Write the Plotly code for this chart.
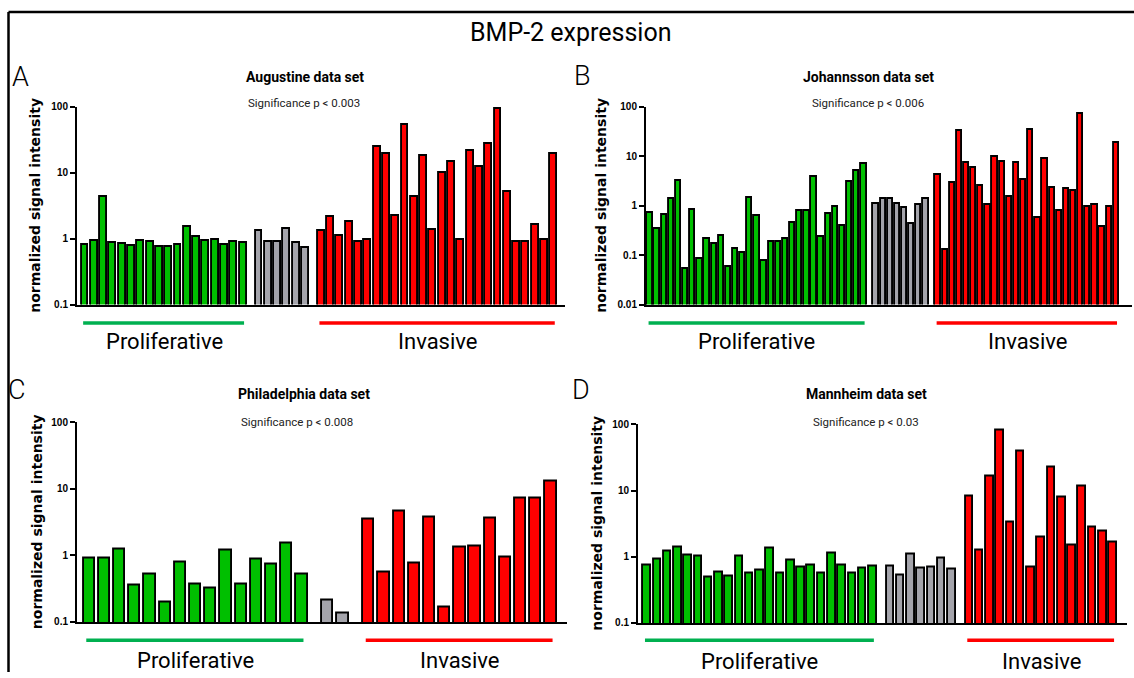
import plotly.graph_objects as go

# ---------------- data ----------------
panel_letters = ["A", "B", "C", "D"]
panel_titles = ["Augustine data set", "Johannsson data set", "Philadelphia data set", "Mannheim data set"]
significance = ["Significance p < 0.003", "Significance p < 0.006", "Significance p < 0.008", "Significance p < 0.03"]
group_labels = ["Proliferative", "Invasive"]

A_prolif = [0.81, 0.93, 4.3, 0.87, 0.84, 0.78, 0.93, 0.90, 0.74, 0.76, 0.81, 1.53, 1.06, 0.93, 0.96, 0.82, 0.90, 0.86]
A_other = [1.31, 0.91, 0.89, 1.41, 0.86, 0.72]
A_inv = [1.32, 2.15, 1.10, 1.79, 0.91, 0.96, 24.7, 19.4, 2.25, 52.6, 4.3, 17.9, 1.36, 9.8, 14.8, 0.96,
         21.3, 12.3, 27.4, 92.0, 5.1, 0.91, 0.88, 1.62, 0.96, 19.7]

B_prolif = [0.73, 0.34, 0.64, 1.38, 3.2, 0.054, 0.83, 0.085, 0.21, 0.17, 0.245, 0.059, 0.136, 0.111, 1.44, 0.62,
            0.075, 0.184, 0.184, 0.214, 0.445, 0.78, 0.78, 3.83, 0.231, 0.67, 0.97, 0.388, 3.04, 4.96, 7.15]
B_other = [1.1, 1.36, 1.4, 1.1, 0.885, 0.42, 1.05, 1.36]
B_inv = [4.13, 0.128, 2.86, 32.9, 7.38, 5.87, 2.5, 1.02, 9.55, 7.7, 1.51, 7.48, 3.33, 34.9, 0.57, 9.0,
         2.35, 0.8, 2.24, 1.99, 72.6, 0.955, 1.02, 0.37, 0.955, 19.0]

C_prolif = [0.91, 0.91, 1.25, 0.35, 0.52, 0.195, 0.78, 0.37, 0.32, 1.2, 0.37, 0.87, 0.73, 1.52, 0.52]
C_other = [0.21, 0.134]
C_inv = [3.52, 0.55, 4.52, 0.76, 3.77, 0.165, 1.3, 1.36, 3.56, 0.93, 7.1, 7.28, 13.0]

D_prolif = [0.74, 0.92, 1.21, 1.39, 1.05, 1.02, 0.49, 0.57, 0.5, 1.0, 0.55, 0.61, 1.33, 0.55, 0.87, 0.69,
            0.73, 0.55, 1.13, 0.73, 0.55, 0.66, 0.71]
D_other = [0.71, 0.53, 1.07, 0.67, 0.7, 0.94, 0.65]
D_inv = [8.15, 1.23, 16.5, 81.5, 3.31, 38.8, 0.69, 1.96, 22.2, 7.96, 1.49, 11.5, 2.82, 2.43, 1.63]

y_ticks_A = [0.1, 1, 10, 100]
y_ticks_B = [0.01, 0.1, 1, 10, 100]

# ---------------- layout / style ----------------
W, H = 1134, 678
GREEN = "#00bf00"
GRAY = "#a4a4ab"
RED = "#ff0000"
LINE_GREEN = "#00b050"
SANS = "Roboto, Liberation Sans, Arial, sans-serif"
GROUP_GAP = 0.7
BAR_W = 0.74

panels = [
    dict(groups=(A_prolif, A_other, A_inv), ticks=y_ticks_A, xpx=(77, 565), ypx=(102.7, 304),
         pad=(0.86, 1.2), title_xy=(305, 72), sig_xy=(304, 99), letter_xy=(20, 72),
         ylab_shift=-42, label_y=342, line_y=322.7),
    dict(groups=(B_prolif, B_other, B_inv), ticks=y_ticks_B, xpx=(646, 1132), ypx=(102.7, 304),
         pad=(0.56, 2.2), title_xy=(868, 72), sig_xy=(868, 99), letter_xy=(582, 71),
         ylab_shift=-45, label_y=342, line_y=322.7),
    dict(groups=(C_prolif, C_other, C_inv), ticks=y_ticks_A, xpx=(77, 567), ypx=(424, 627),
         pad=(0.81, 1.05), title_xy=(304, 395), sig_xy=(297, 423), letter_xy=(17, 391),
         ylab_shift=-40, label_y=666, line_y=645.7),
    dict(groups=(D_prolif, D_other, D_inv), ticks=y_ticks_A, xpx=(638, 1127), ypx=(426, 628),
         pad=(0.88, 1.36), title_xy=(866, 395), sig_xy=(866, 423), letter_xy=(581, 391),
         ylab_shift=-41, label_y=667, line_y=645.7),
]

def px_x(v):
    return v / W

def px_y(v):
    return 1 - v / H

fig = go.Figure()
annotations = []
shapes = []
colors = [GREEN, GRAY, RED]

for i, p in enumerate(panels):
    n = "" if i == 0 else str(i + 1)
    xa, ya = "x" + n, "y" + n
    xs_groups = []
    start = 0.0
    for g in p["groups"]:
        xs_groups.append([start + k for k in range(len(g))])
        start = start + len(g) + GROUP_GAP
    for g, xs, c in zip(p["groups"], xs_groups, colors):
        fig.add_trace(go.Bar(x=xs, y=g, xaxis=xa, yaxis=ya, width=BAR_W,
                             marker=dict(color=c, line=dict(color="black", width=1.9)),
                             showlegend=False, hoverinfo="y"))
    last = xs_groups[-1][-1]
    fig.layout["xaxis" + n] = dict(domain=[px_x(p["xpx"][0]), px_x(p["xpx"][1])],
                                   range=[-p["pad"][0], last + p["pad"][1]], anchor=ya,
                                   showline=True, linecolor="black", linewidth=2,
                                   showticklabels=False, ticks="", showgrid=False, zeroline=False,
                                   fixedrange=True)
    fig.layout["yaxis" + n] = dict(domain=[px_y(p["ypx"][1]), px_y(p["ypx"][0])], type="log",
                                   range=[-2 if len(p["ticks"]) == 5 else -1, 2], anchor=xa,
                                   tickvals=p["ticks"], ticktext=[f"{t:g}" for t in p["ticks"]],
                                   showline=True, linecolor="black", linewidth=2,
                                   ticks="outside", ticklen=5, tickwidth=2, tickcolor="black",
                                   tickfont=dict(family="Liberation Sans, Arial, sans-serif", size=10,
                                                 color="black", weight="bold"),
                                   showgrid=False, zeroline=False, fixedrange=True)
    annotations.append(dict(text="normalized signal intensity", xref=xa + " domain", yref=ya + " domain",
                            x=0, y=0.5, xshift=p["ylab_shift"], textangle=-90, showarrow=False,
                            xanchor="center", yanchor="middle",
                            font=dict(family="DejaVu Sans, sans-serif", size=14, color="black",
                                      weight="bold")))
    annotations.append(dict(text=panel_titles[i], xref="paper", yref="paper",
                            x=px_x(p["title_xy"][0]), y=px_y(p["title_xy"][1]), showarrow=False,
                            xanchor="center", yanchor="middle",
                            font=dict(family=SANS, size=14, color="black", weight="bold")))
    annotations.append(dict(text=significance[i], xref="paper", yref="paper",
                            x=px_x(p["sig_xy"][0]), y=px_y(p["sig_xy"][1]), showarrow=False,
                            xanchor="center", yanchor="middle",
                            font=dict(family=SANS, size=11.5, color="#222222")))
    annotations.append(dict(text=panel_letters[i], xref="paper", yref="paper",
                            x=px_x(p["letter_xy"][0]), y=px_y(p["letter_xy"][1]), showarrow=False,
                            xanchor="center", yanchor="middle",
                            font=dict(family=SANS, size=27, color="black", weight=300)))
    for xs, col, lab in ((xs_groups[0], LINE_GREEN, group_labels[0]), (xs_groups[2], RED, group_labels[1])):
        shapes.append(dict(type="line", xref=xa, yref="paper", x0=xs[0] - 0.2, x1=xs[-1] + 0.1,
                           y0=px_y(p["line_y"]), y1=px_y(p["line_y"]),
                           line=dict(color=col, width=3.5)))
        annotations.append(dict(text=lab, xref=xa, yref="paper", x=(xs[0] + xs[-1]) / 2,
                                y=px_y(p["label_y"]), showarrow=False, xanchor="center", yanchor="middle",
                                font=dict(family=SANS, size=22, color="black")))

annotations.append(dict(text="BMP-2 expression", xref="paper", yref="paper", x=px_x(570), y=px_y(27),
                        showarrow=False, xanchor="center", yanchor="middle",
                        font=dict(family=SANS, size=25, color="black")))

shapes.append(dict(type="line", xref="paper", yref="paper", x0=px_x(8.5), x1=1.0, y0=px_y(6), y1=px_y(6),
                   line=dict(color="black", width=2.5)))
shapes.append(dict(type="line", xref="paper", yref="paper", x0=px_x(8.5), x1=px_x(8.5), y0=px_y(6), y1=0,
                   line=dict(color="black", width=2.5)))

fig.update_layout(width=W, height=H, margin=dict(l=0, r=0, t=0, b=0), autosize=False,
                  plot_bgcolor="white", paper_bgcolor="white", bargap=0,
                  annotations=annotations, shapes=shapes, showlegend=False)

fig.write_html("out.html", config={"displayModeBar": False},
               post_script="document.body.style.margin='0px';document.body.style.padding='0px';")
